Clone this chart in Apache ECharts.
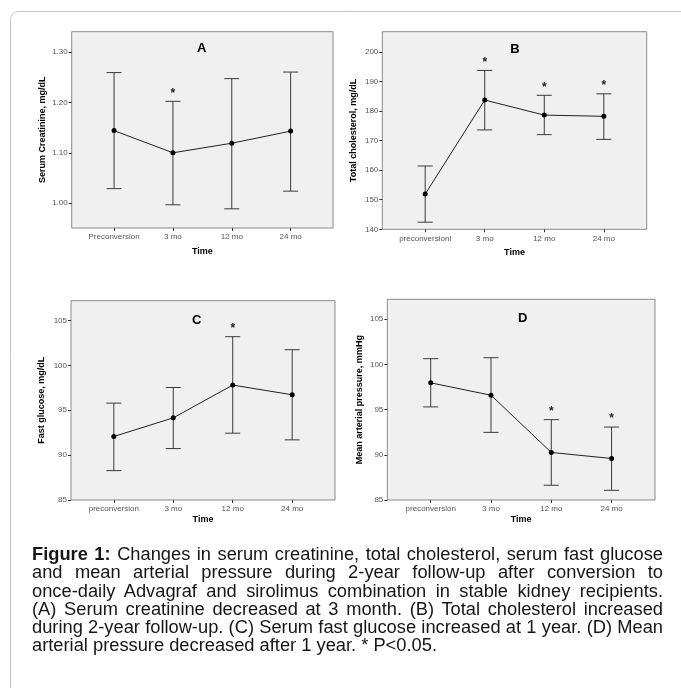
<!DOCTYPE html>
<html>
<head>
<meta charset="utf-8">
<script src="https://cdn.jsdelivr.net/npm/echarts@6/dist/echarts.min.js"></script>
<style>
  html, body { margin: 0; padding: 0; background: #fff; }
  #chart { position: absolute; left: 0; top: 0; width: 681px; height: 688px; }
  #caption { position: absolute; left: 32px; top: 545px; width: 631px;
    font-family: "Liberation Sans", Arial, sans-serif; font-size: 18.3px; line-height: 18.3px; color: #161616; }
  #caption div { text-align: justify; text-align-last: justify; white-space: nowrap; }
  #caption div.last { text-align-last: left; }
</style>
</head>
<body>
<div id="chart"></div>
<div id="caption"></div>
<script>
// ---------------- DATA ----------------
const catsA = ['Preconversion', '3 mo', '12 mo', '24 mo'];
const catsB = ['preconversionl', '3 mo', '12 mo', '24 mo'];
const catsC = ['preconversion', '3 mo', '12 mo', '24 mo'];
const catsD = ['preconversion', '3 mo', '12 mo', '24 mo'];

const meanA = [1.144, 1.100, 1.119, 1.143];
const upperA = [1.259, 1.202, 1.247, 1.260];
const lowerA = [1.029, 0.997, 0.989, 1.024];
const sigA = [0, 1, 0, 0];
const ticksA = [1.00, 1.10, 1.20, 1.30];

const meanB = [151.9, 183.7, 178.6, 178.2];
const upperB = [161.4, 193.7, 185.3, 185.8];
const lowerB = [142.4, 173.6, 172.0, 170.4];
const sigB = [0, 1, 1, 1];
const ticksB = [140, 150, 160, 170, 180, 190, 200];

const meanC = [92.07, 94.15, 97.80, 96.72];
const upperC = [95.79, 97.53, 103.19, 101.74];
const lowerC = [88.27, 90.73, 92.44, 91.70];
const sigC = [0, 0, 1, 0];
const ticksC = [85, 90, 95, 100, 105];

const meanD = [97.96, 96.59, 90.26, 89.59];
const upperD = [100.63, 100.74, 93.89, 93.07];
const lowerD = [95.30, 92.48, 86.63, 86.07];
const sigD = [0, 0, 1, 1];
const ticksD = [85, 90, 95, 100, 105];

const panelTitles = ['A', 'B', 'C', 'D'];
const yNames = ['Serum Creatinine, mg/dL', 'Total cholesterol, mg/dL', 'Fast glucose, mg/dL', 'Mean arterial pressure, mmHg'];
const xName = 'Time';

const captionLines = [
  '<b>Figure 1:</b> Changes in serum creatinine, total cholesterol, serum fast glucose',
  'and mean arterial pressure during 2-year follow-up after conversion to',
  'once-daily Advagraf and sirolimus combination in stable kidney recipients.',
  '(A) Serum creatinine decreased at 3 month. (B) Total cholesterol increased',
  'during 2-year follow-up. (C) Serum fast glucose increased at 1 year. (D) Mean',
  'arterial pressure decreased after 1 year. * P&lt;0.05.'
];

// ---------------- LAYOUT ----------------
const FONT = '"Liberation Sans", Arial, sans-serif';
const panels = [
  { cats: catsA, mean: meanA, up: upperA, lo: lowerA, sig: sigA, ticks: ticksA, ymin: 0.951, ymax: 1.340, dec: 2,
    grid: { left: 71.7, top: 31.7, width: 261.3, height: 196.3 }, xGap: 19, yGap: 25 },
  { cats: catsB, mean: meanB, up: upperB, lo: lowerB, sig: sigB, ticks: ticksB, ymin: 140, ymax: 206.8, dec: 0,
    grid: { left: 382.3, top: 31.7, width: 264.4, height: 197.6 }, xGap: 18.5, yGap: 24 },
  { cats: catsC, mean: meanC, up: upperC, lo: lowerC, sig: sigC, ticks: ticksC, ymin: 85, ymax: 107.2, dec: 0,
    grid: { left: 71, top: 300.7, width: 264, height: 199.3 }, xGap: 15, yGap: 24.5 },
  { cats: catsD, mean: meanD, up: upperD, lo: lowerD, sig: sigD, ticks: ticksD, ymin: 85, ymax: 107.2, dec: 0,
    grid: { left: 387.3, top: 299.3, width: 267.7, height: 200.7 }, xGap: 15, yGap: 23.5 }
];

const grids = [], xAxes = [], yAxes = [], series = [], graphics = [];

graphics.push({
  type: 'rect', shape: { x: 10.5, y: 11.5, width: 720, height: 720, r: 8 },
  style: { fill: 'none', stroke: '#c4c4c4', lineWidth: 1 }, z: 0
});

panels.forEach((p, k) => {
  grids.push(Object.assign({ show: true, backgroundColor: '#f0f0f0', borderColor: '#8a8a8a', borderWidth: 1 }, p.grid));
  const idx = [0, 1, 2, 3];
  xAxes.push({
    type: 'value', gridIndex: k, min: -0.72, max: 3.72,
    name: xName, nameLocation: 'middle', nameGap: p.xGap,
    nameTextStyle: { fontFamily: FONT, fontWeight: 'bold', fontSize: 9, color: '#000' },
    axisLine: { show: false, onZero: false },
    splitLine: { show: false },
    axisTick: { show: true, customValues: idx, length: 3, lineStyle: { color: '#333' } },
    axisLabel: { customValues: idx, margin: 5, fontFamily: FONT, fontSize: 8, color: '#555',
      formatter: v => p.cats[Math.round(v)] || '' }
  });
  yAxes.push({
    type: 'value', gridIndex: k, min: p.ymin, max: p.ymax,
    name: yNames[k], nameLocation: 'middle', nameGap: p.yGap, nameRotate: 90,
    nameTextStyle: { fontFamily: FONT, fontWeight: 'bold', fontSize: 9, color: '#000' },
    axisLine: { show: false, onZero: false },
    splitLine: { show: false },
    axisTick: { show: true, customValues: p.ticks, length: 3, lineStyle: { color: '#333' } },
    axisLabel: { customValues: p.ticks, margin: 4, fontFamily: FONT, fontSize: 8, color: '#555',
      formatter: v => Number(v).toFixed(p.dec) }
  });
  // error bars + significance stars
  series.push({
    type: 'custom', xAxisIndex: k, yAxisIndex: k, z: 2, silent: true,
    data: idx.map(i => [i, p.lo[i], p.up[i], p.sig[i]]),
    renderItem: (params, api) => {
      const x = api.value(0);
      const hi = api.coord([x, api.value(2)]);
      const lo = api.coord([x, api.value(1)]);
      const hw = 7.5;
      const st = { stroke: '#3a3a3a', lineWidth: 1 };
      const ch = [
        { type: 'line', shape: { x1: hi[0], y1: hi[1], x2: lo[0], y2: lo[1] }, style: st },
        { type: 'line', shape: { x1: hi[0] - hw, y1: hi[1], x2: hi[0] + hw, y2: hi[1] }, style: st },
        { type: 'line', shape: { x1: lo[0] - hw, y1: lo[1], x2: lo[0] + hw, y2: lo[1] }, style: st }
      ];
      if (api.value(3) === 1) {
        ch.push({ type: 'text', x: hi[0], y: hi[1] - 8,
          style: { text: '*', fill: '#222', font: 'bold 12px ' + FONT, align: 'center', verticalAlign: 'middle' } });
      }
      return { type: 'group', children: ch };
    }
  });
  series.push({
    type: 'line', xAxisIndex: k, yAxisIndex: k, z: 3, silent: true,
    data: idx.map(i => [i, p.mean[i]]),
    symbol: 'circle', symbolSize: 5,
    itemStyle: { color: '#000' },
    lineStyle: { color: '#222', width: 1 },
    animation: false
  });
});

// panel titles
const titlePos = [[201.7, 48.3], [515, 49.3], [196.7, 320], [522.7, 318.3]];
panelTitles.forEach((t, k) => {
  graphics.push({ type: 'text', x: titlePos[k][0], y: titlePos[k][1], z: 10,
    style: { text: t, font: 'bold 13px ' + FONT, fill: '#000', align: 'center', verticalAlign: 'middle' } });
});

const chart = echarts.init(document.getElementById('chart'), null, { renderer: 'canvas' });
chart.setOption({
  animation: false,
  backgroundColor: '#fff',
  grid: grids, xAxis: xAxes, yAxis: yAxes, series: series, graphic: graphics
});

document.getElementById('caption').innerHTML = captionLines
  .map((l, i) => '<div' + (i === captionLines.length - 1 ? ' class="last"' : '') + '>' + l + '</div>').join('');
</script>
</body>
</html>
